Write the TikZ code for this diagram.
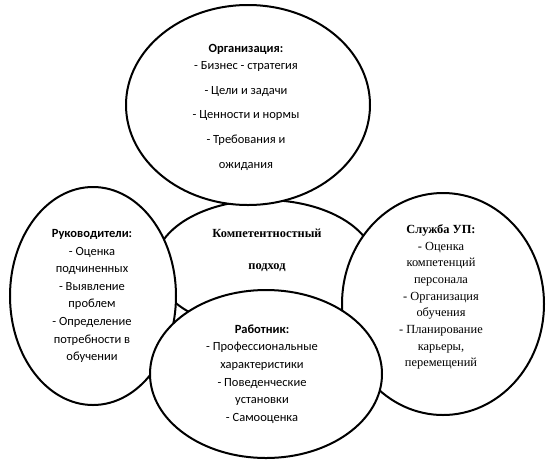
\documentclass[tikz,border=0pt]{standalone}
\usepackage{fontspec}
\setmainfont{Carlito}
\newfontfamily\tnr{Liberation Serif}
\begin{document}
\begin{tikzpicture}[x=1pt,y=-1pt,
  oval/.style={draw=black,line width=2pt,fill=white},
  sanstext/.style={align=center,inner sep=0pt,font=\fontsize{12.5}{17.6}\selectfont},
  seriftext/.style={align=center,inner sep=0pt,font=\tnr\fontsize{12.4}{16.7}\selectfont}]
\useasboundingbox (0,0) rectangle (548,469);
% ellipses (drawing order matters)
\draw[oval] (265,265) ellipse [x radius=110, y radius=65];
\draw[oval] (93,296) ellipse [x radius=83, y radius=109];
\draw[oval] (443,304) ellipse [x radius=101, y radius=111];
\draw[oval] (248,105) ellipse [x radius=122, y radius=100];
\draw[oval] (266,374) ellipse [x radius=116, y radius=84];
% texts
\node[sanstext] (org) at (246,107) {\textbf{Организация:}\\ - Бизнес - стратегия\\[7pt] - Цели и задачи\\[7pt] - Ценности и нормы\\[7pt] - Требования и\\[7pt] ожидания};
\node[sanstext] (ruk) at (92,296) {\textbf{Руководители:}\\ - Оценка\\ подчиненных\\ - Выявление\\ проблем\\ - Определение\\ потребности в\\ обучении};
\node[seriftext] (sup) at (441,297) {\textbf{Служба УП:}\\ - Оценка\\ компетенций\\ персонала\\ - Организация\\ обучения\\ - Планирование\\ карьеры,\\ перемещений};
\node[seriftext] (komp) at (267,250) {\textbf{Компетентностный}\\[15pt] \textbf{подход}};
\node[sanstext] (rab) at (262,374) {\textbf{Работник:}\\ - Профессиональные\\ характеристики\\ - Поведенческие\\ установки\\ - Самооценка};
\end{tikzpicture}
\end{document}
